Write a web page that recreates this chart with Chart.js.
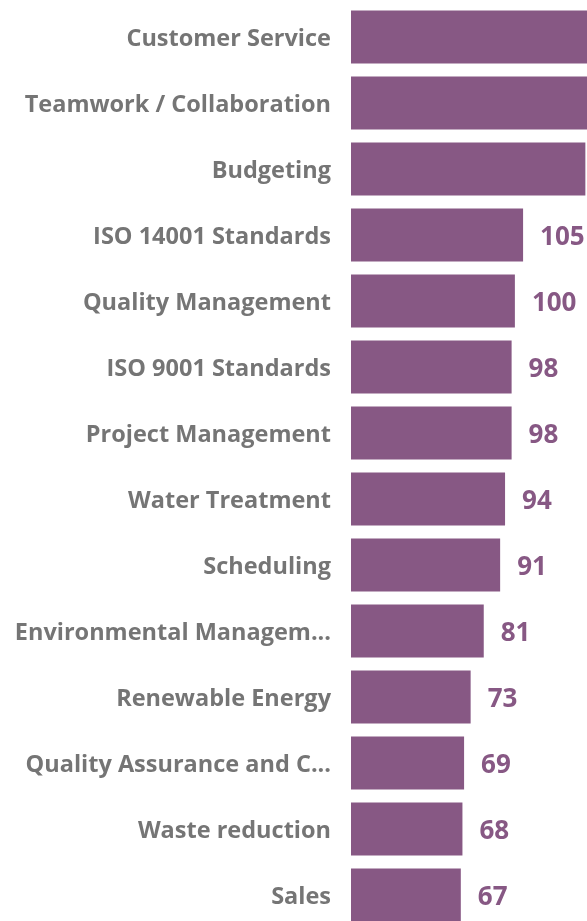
<!DOCTYPE html>
<html>
<head>
<meta charset="utf-8">
<script src="https://cdn.jsdelivr.net/npm/chart.js@4/dist/chart.umd.min.js"></script>
<style>
  html, body { margin: 0; padding: 0; background: #ffffff; overflow: hidden; }
  #wrap { position: relative; width: 587px; height: 929px; }
</style>
</head>
<body>
<div id="wrap"><canvas id="c"></canvas></div>
<script>
const categories = [
  "Customer Service",
  "Teamwork / Collaboration",
  "Budgeting",
  "ISO 14001 Standards",
  "Quality Management",
  "ISO 9001 Standards",
  "Project Management",
  "Water Treatment",
  "Scheduling",
  "Environmental Managem...",
  "Renewable Energy",
  "Quality Assurance and C...",
  "Waste reduction",
  "Sales"
];
const values = [152, 147, 143, 105, 100, 98, 98, 94, 91, 81, 73, 69, 68, 67];
const axisMax = 144;

const barColor = "#875884";
const labelColor = "#757575";

const valueLabels = {
  id: "valueLabels",
  afterDatasetsDraw(chart) {
    const ctx = chart.ctx;
    const meta = chart.getDatasetMeta(0);
    ctx.save();
    ctx.font = "bold 26px 'Open Sans'";
    ctx.fillStyle = barColor;
    ctx.textAlign = "left";
    ctx.textBaseline = "middle";
    meta.data.forEach((bar, i) => {
      const x = bar.x + 17;
      if (x > chart.width) return;
      ctx.fillText(String(values[i]), x, bar.y + 3);
    });
    ctx.restore();
  }
};

new Chart(document.getElementById("c"), {
  type: "bar",
  data: {
    labels: categories,
    datasets: [{
      data: values,
      backgroundColor: barColor,
      borderWidth: 0,
      barPercentage: 0.8,
      categoryPercentage: 1.0
    }]
  },
  options: {
    indexAxis: "y",
    responsive: true,
    maintainAspectRatio: false,
    animation: false,
    layout: { padding: { top: 4, bottom: 1, left: 0, right: 0 } },
    plugins: {
      legend: { display: false },
      tooltip: { enabled: false }
    },
    scales: {
      x: {
        display: false,
        min: 0,
        max: axisMax
      },
      y: {
        grid: { display: false, drawTicks: false, tickLength: 0 },
        border: { display: false },
        ticks: {
          color: labelColor,
          font: { family: "'Open Sans'", size: 23.5, weight: "bold" },
          padding: 20,
          labelOffset: 2,
          autoSkip: false
        },
        afterFit(scale) {
          scale.width = 351;
          scale.paddingTop = 0;
          scale.paddingBottom = 0;
        }
      }
    }
  },
  plugins: [valueLabels]
});
</script>
</body>
</html>
